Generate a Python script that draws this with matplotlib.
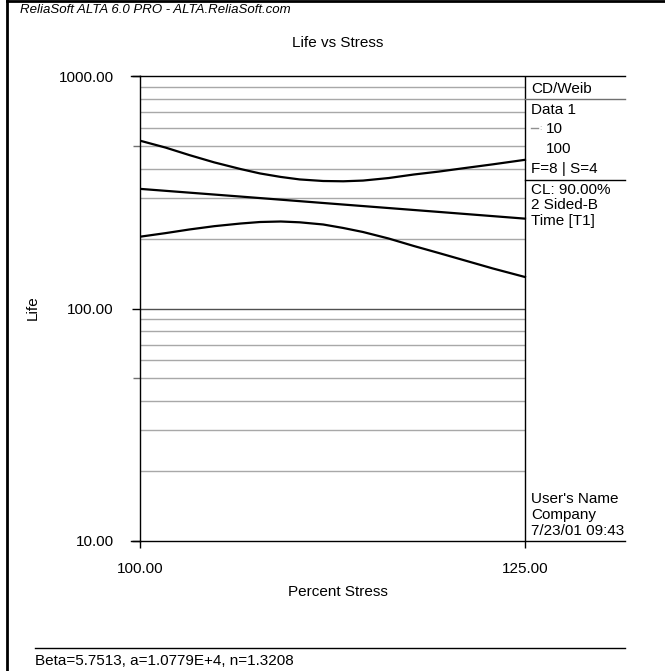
import matplotlib
matplotlib.use("Agg")
import matplotlib.pyplot as plt
from matplotlib.lines import Line2D
from matplotlib.ticker import FixedLocator, NullFormatter

plt.rcParams['font.family'] = ['Liberation Sans', 'DejaVu Sans']

# Life vs stress curves (Percent Stress, life)
stress_bounds = [100, 101.5, 102.9, 104.4, 106, 107.2, 108.5, 109.7, 111.2,
                 112.5, 113.8, 115.5, 117.2, 118.9, 120.6, 122.7, 125]
life_upper = [527, 492, 457, 425, 398, 381, 368, 359, 353.5,
              352.5, 355, 364, 377, 388, 401, 417, 436]
life_lower = [203.6, 211, 218.7, 226, 232, 235.5, 236.7, 234.8, 229.8,
              222, 213.3, 200, 185.7, 173.3, 161.7, 148.6, 136.6]
stress_mid = [100, 106, 112.5, 119, 125]
life_mid = [327, 303, 280, 260, 243.5]

x_ticks = [100, 125]
y_ticks = [10, 100, 1000]
y_minor_ticks = [50, 500]
grid_levels = [20, 30, 40, 50, 60, 70, 80, 90,
               200, 300, 400, 500, 600, 700, 800, 900]

legend_top = "CD/Weib"
legend_data = ["Data 1", "10", "100", "F=8 | S=4"]
legend_conf = ["CL: 90.00%", "2 Sided-B", "Time [T1]"]
legend_user = ["User's Name", "Company", "7/23/01 09:43"]
params_text = "Beta=5.7513, a=1.0779E+4, n=1.3208"

W, H = 665, 671
fig = plt.figure(figsize=(W / 100, H / 100), dpi=100)


def fx(px):
    return px / W


def fy(py):
    return 1 - py / H


fs = 11

# plot area in pixels
left, right, top, bottom = 140, 625, 76, 541
sep = 525
ax = fig.add_axes([fx(left), fy(bottom), fx(right - left), fy(top) - fy(bottom)])
ax.set_xscale('log')
ax.set_yscale('log')
ax.set_xlim(100, 100 * 1.25 ** ((right - left) / (sep - left)))
ax.set_ylim(10, 1000)

# horizontal grid lines only across the data region
ax.hlines(grid_levels, 100, 125, colors='#a8a8a8', lw=1.0, zorder=1)
ax.hlines([100], 100, 125, colors='#505050', lw=1.0, zorder=1)

# separator between data region and legend column
ax.axvline(125, color='black', lw=1.0, zorder=2)

ax.plot(stress_bounds, life_upper, color='black', lw=1.6, zorder=3)
ax.plot(stress_mid, life_mid, color='black', lw=1.6, zorder=3)
ax.plot(stress_bounds, life_lower, color='black', lw=1.6, zorder=3)

ax.spines['right'].set_visible(False)
for s in ['left', 'top', 'bottom']:
    ax.spines[s].set_linewidth(1.0)

ax.xaxis.set_major_locator(FixedLocator(x_ticks))
ax.xaxis.set_minor_locator(FixedLocator([]))
ax.set_xticklabels([f"{v:.2f}" for v in x_ticks])
ax.xaxis.set_minor_formatter(NullFormatter())
ax.tick_params(axis='x', which='major', length=5, width=1.0, pad=10,
               labelsize=fs)

ax.yaxis.set_major_locator(FixedLocator(y_ticks))
ax.yaxis.set_minor_locator(FixedLocator(y_minor_ticks))
ax.set_yticklabels([f"{v:.2f}" for v in y_ticks])
ax.yaxis.set_minor_formatter(NullFormatter())
ax.tick_params(axis='y', which='major', length=6, width=1.0, pad=13,
               labelsize=fs)
ax.tick_params(axis='y', which='minor', length=5, width=1.0, color='#707070')

# titles centred over the data region
cx = fx((left + sep) / 2 + 5)
fig.text(cx, fy(43), "Life vs Stress", fontsize=fs, ha='center', va='center')
fig.text(cx, fy(592), "Percent Stress", fontsize=fs, ha='center', va='center')
fig.text(fx(33), fy(308), "Life", fontsize=fs, rotation=90,
         ha='center', va='center')

# extend top and bottom rules a little left of the axis
fig.add_artist(Line2D([fx(131), fx(left)], [fy(top), fy(top)], color='black', lw=1.0))
fig.add_artist(Line2D([fx(131), fx(left)], [fy(bottom), fy(bottom)], color='black', lw=1.0))

# legend column
tx = fx(531)
fig.text(tx, fy(89), legend_top, fontsize=fs, va='center')
fig.add_artist(Line2D([fx(sep), fx(right)], [fy(99), fy(99)], color='#707070', lw=1.0))
fig.text(tx, fy(110), legend_data[0], fontsize=fs, va='center')
fig.add_artist(Line2D([fx(531), fx(538)], [fy(128), fy(128)], color='#909090', lw=1.0))
fig.text(fx(539), fy(128), ":", fontsize=6, va='center', color='#909090')
fig.text(fx(546), fy(129), legend_data[1], fontsize=fs, va='center')
fig.text(fx(546), fy(149), legend_data[2], fontsize=fs, va='center')
fig.text(tx, fy(169), legend_data[3], fontsize=fs, va='center')
fig.add_artist(Line2D([fx(sep), fx(right)], [fy(180), fy(180)], color='black', lw=1.0))
for i, t in enumerate(legend_conf):
    fig.text(tx, fy(190 + 15.5 * i), t, fontsize=fs, va='center')
for i, t in enumerate(legend_user):
    fig.text(tx, fy(499 + 16 * i), t, fontsize=fs, va='center')

# header and frame
fig.text(fx(20), fy(10), "ReliaSoft ALTA 6.0 PRO - ALTA.ReliaSoft.com",
         fontsize=9.5, style='italic', va='center')
fig.add_artist(Line2D([fx(7), fx(7)], [fy(1), 0], color='black', lw=2.0))
fig.add_artist(Line2D([fx(7), 1], [fy(1), fy(1)], color='black', lw=2.0))

# parameter footer
fig.add_artist(Line2D([fx(35), fx(right)], [fy(648), fy(648)], color='black', lw=1.0))
fig.text(fx(35), fy(661), params_text, fontsize=fs, va='center')

fig.savefig("out.png", dpi=100)
